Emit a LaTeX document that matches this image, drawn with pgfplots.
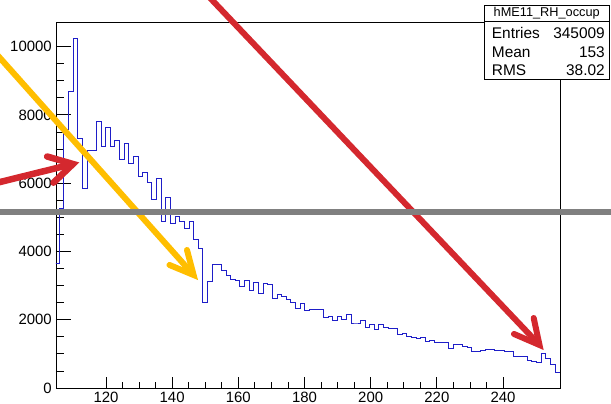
\documentclass[border=0pt]{standalone}
\usepackage{fontspec}
\setmainfont{Liberation Sans}
\usepackage{pgfplots}
\pgfplotsset{compat=1.18}
\definecolor{histblue}{RGB}{30,30,200}
\definecolor{annred}{RGB}{212,40,46}
\definecolor{anngold}{RGB}{255,190,0}
\definecolor{anngrey}{RGB}{128,128,128}
\begin{document}
\begin{tikzpicture}
\useasboundingbox (-56bp,-16bp) rectangle (555bp,388bp);
\begin{axis}[
  at={(0,0)}, anchor=south west, scale only axis,
  width=504bp, height=366bp,
  xmin=104.9, xmax=257.2, ymin=0, ymax=10720,
  axis line style={line width=0.8bp, black},
  tick align=inside, xtick pos=left, ytick pos=left,
  xtick={120,140,...,240}, ytick={0,2000,...,10000},
  minor x tick num=3, minor y tick num=3,
  scaled y ticks=false, scaled x ticks=false,
  /pgf/number format/assume math mode=true,
  /pgf/number format/set thousands separator={},
  tick style={black, line width=0.8bp},
  xtick style={/pgfplots/major tick length=11bp,/pgfplots/minor tick length=5.5bp},
  ytick style={/pgfplots/major tick length=15bp,/pgfplots/minor tick length=7.5bp},
  tick label style={font=\fontsize{15}{18}\selectfont},
  yticklabel style={inner sep=0pt, anchor=east, xshift=-4bp},
  xticklabel style={inner sep=0pt, anchor=north, yshift=-3.5bp},
]
\addplot[const plot, histblue, line width=1bp] coordinates {
(104.5,3650) (105.9,5250) (107.3,7580) (108.7,8680) (110.1,10230)
(111.5,7315) (112.9,5830) (114.3,6945) (115.7,6950) (117.1,7800)
(118.5,7070) (119.9,7640) (121.3,7070) (122.7,7250) (124.1,6700)
(125.5,7150) (126.9,6580) (128.3,6780) (129.7,6190) (131.1,6310)
(132.5,6015) (133.9,5510) (135.3,6130) (136.7,4890) (138.1,5590)
(139.5,4820) (140.9,5020) (142.3,4890) (143.7,4660) (145.1,4870)
(146.5,4360) (147.9,4090) (149.3,2510) (150.7,3115) (152.1,3620)
(153.5,3620) (154.9,3440) (156.3,3300) (157.7,3190) (159.1,3145)
(160.5,2970) (161.9,3140) (163.3,2860) (164.7,3090) (166.1,2780)
(167.5,3050) (168.9,3040) (170.3,2630) (171.7,2745) (173.1,2676)
(174.5,2600) (175.9,2500) (177.3,2334) (178.7,2461) (180.1,2266)
(181.5,2305) (182.9,2305) (184.3,2305) (185.7,2061) (187.1,2090)
(188.5,1963) (189.9,2090) (191.3,2012) (192.7,2158) (194.1,1875)
(195.5,1875) (196.9,1973) (198.3,1768) (199.7,1865) (201.1,1699)
(202.5,1846) (203.9,1778) (205.3,1729) (206.7,1729) (208.1,1553)
(209.5,1602) (210.9,1520) (212.3,1475) (213.7,1440) (215.1,1485)
(216.5,1350) (217.9,1385) (219.3,1340) (220.7,1320) (222.1,1320)
(223.5,1165) (224.9,1285) (226.3,1285) (227.7,1220) (229.1,1190)
(230.5,1060) (231.9,1070) (233.3,1090) (234.7,1120) (236.1,1120)
(237.5,1110) (238.9,1100) (240.3,1075) (241.7,1065) (243.1,920)
(244.5,920) (245.9,910) (247.3,815) (248.7,775) (250.1,735)
(251.5,996) (252.9,860) (254.3,674) (255.7,440) (257.1,440)
};
\end{axis}
\begin{scope}
\clip (-56bp,-16bp) rectangle (555bp,388bp);
% stats box
\filldraw[fill=white, draw=black, line width=0.8bp] (428bp,309bp) rectangle (553.5bp,383bp);
\draw[black, line width=0.8bp] (428bp,366.3bp) -- (553.5bp,366.3bp);
\node[inner sep=0pt, font=\fontsize{12.8}{15}\selectfont] at (490.7bp,375bp) {hME11\_RH\_occup};
\node[inner sep=0pt, anchor=west, font=\fontsize{15.5}{18}\selectfont] at (435.7bp,354.7bp) {Entries};
\node[inner sep=0pt, anchor=east, font=\fontsize{15.5}{18}\selectfont] at (549bp,354.7bp) {345009};
\node[inner sep=0pt, anchor=west, font=\fontsize{15.5}{18}\selectfont] at (435.7bp,335.7bp) {Mean};
\node[inner sep=0pt, anchor=east, font=\fontsize{15.5}{18}\selectfont] at (549bp,335.7bp) {153};
\node[inner sep=0pt, anchor=west, font=\fontsize{15.5}{18}\selectfont] at (435.7bp,318bp) {RMS};
\node[inner sep=0pt, anchor=east, font=\fontsize{15.5}{18}\selectfont] at (549bp,318bp) {38.02};
% annotation arrows
\draw[anngold, line width=6bp, line cap=butt] (-70bp,345.7bp) -- (137.6bp,113bp);
\draw[anngold, line width=6bp, line cap=round, line join=miter] (131bp,138bp) -- (137.6bp,113bp) -- (113.5bp,123bp);
\draw[annred, line width=6bp, line cap=butt] (139.6bp,405.3bp) -- (483.5bp,43bp);
\draw[annred, line width=6bp, line cap=round, line join=miter] (477.7bp,70bp) -- (483.5bp,43bp) -- (458bp,54bp);
\draw[annred, line width=6.5bp, line cap=butt] (-66bp,203.5bp) -- (17bp,224bp);
\draw[annred, line width=6.5bp, line cap=round, line join=miter] (-8.9bp,231.5bp) -- (17bp,224bp) -- (-2.5bp,205.3bp);
% grey horizontal bar
\draw[anngrey, line width=5.5bp] (-60bp,176bp) -- (560bp,176bp);
\end{scope}
\end{tikzpicture}
\end{document}
